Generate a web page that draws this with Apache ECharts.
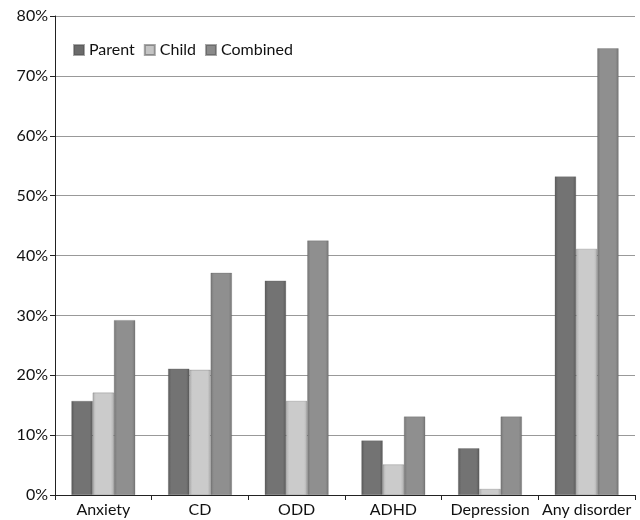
<!DOCTYPE html>
<html><head><meta charset="utf-8">
<script src="https://cdn.jsdelivr.net/npm/echarts@6/dist/echarts.min.js"></script>
<style>html,body{margin:0;padding:0;background:#fff}#c{width:640px;height:520px}</style>
</head><body><div id="c"></div>
<script>
const categories = ['Anxiety','CD','ODD','ADHD','Depression','Any disorder'];
const parent   = [15.7, 21.1, 35.8, 9.1, 7.8, 53.2];
const child    = [17.1, 20.9, 15.7, 5.1, 1.0, 41.1];
const combined = [29.2, 37.1, 42.5, 13.1, 13.1, 74.6];
const seriesNames = ['Parent','Child','Combined'];

function grad(edge, mid){
  return new echarts.graphic.LinearGradient(0,0,1,0,[
    {offset:0,color:edge},{offset:0.15,color:mid},{offset:0.85,color:mid},{offset:1,color:edge}
  ]);
}
const colors = [
  grad('#5a5a5a','#737373'),
  grad('#b0b0b0','#cbcbcb'),
  grad('#777777','#8f8f8f')
];
const legendColors = ['#6b6b6b','#c4c4c4','#8a8a8a'];
const font = 'Lato, "Open Sans", sans-serif';
const chart = echarts.init(document.getElementById('c'));
const data = [parent, child, combined];
chart.setOption({
  animation:false,
  textStyle:{fontFamily:font},
  grid:{left:55,right:5,top:16,bottom:25,containLabel:false},
  legend:{
    left:68, top:37, itemWidth:10, itemHeight:10, itemGap:9,
    textStyle:{fontSize:16,color:'#111',fontFamily:font},
    data: seriesNames.map((n,i)=>({name:n,icon:'rect',itemStyle:{color:legendColors[i]}}))
  },
  xAxis:{
    type:'category', data:categories,
    axisLine:{lineStyle:{color:'#222'}},
    axisTick:{show:true,length:5,alignWithLabel:false,lineStyle:{color:'#222'}},
    axisLabel:{fontSize:16,color:'#111',margin:7,interval:0,fontFamily:font}
  },
  yAxis:{
    type:'value', min:0, max:80, interval:10,
    axisLine:{show:true,lineStyle:{color:'#222'}},
    axisTick:{show:true,length:5,lineStyle:{color:'#222'}},
    axisLabel:{formatter:'{value}%',fontSize:16,color:'#111',margin:7,fontFamily:font},
    splitLine:{lineStyle:{color:'#999',width:1}}
  },
  series: seriesNames.map((n,i)=>({
    name:n, type:'bar', data:data[i],
    barGap:'0%', barCategoryGap:'34%',
    itemStyle:{color:colors[i], borderColor:'rgba(80,80,80,0.5)', borderWidth:0.5}
  }))
});
</script></body></html>
